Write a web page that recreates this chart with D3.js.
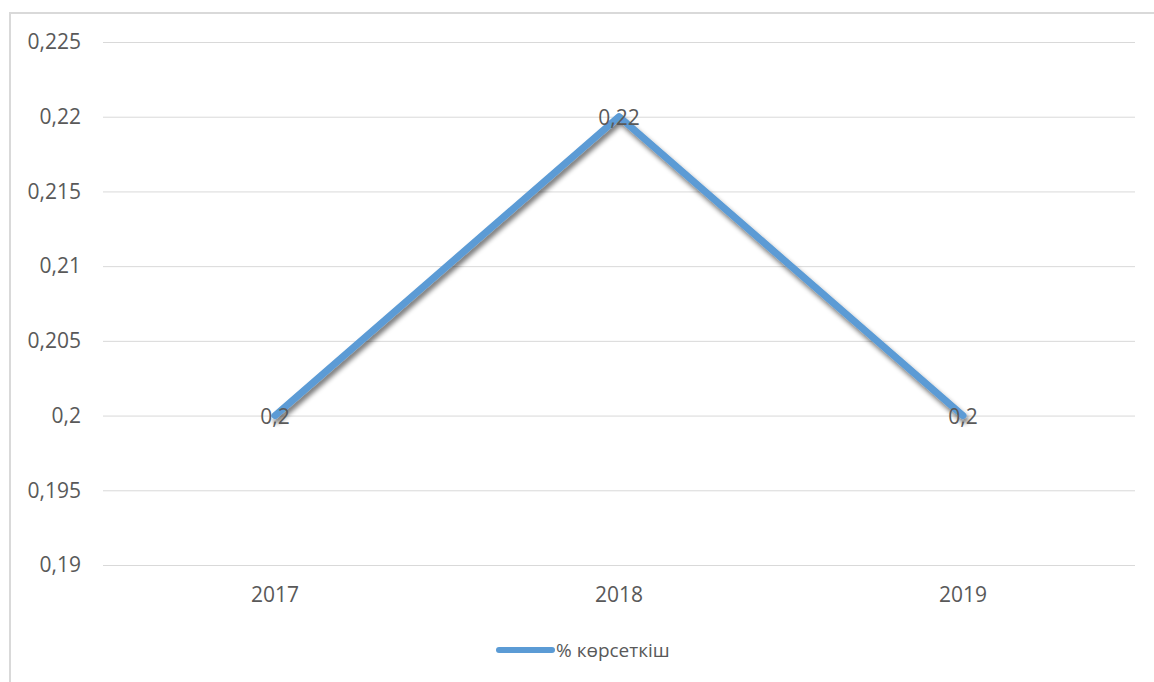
<!DOCTYPE html>
<html><head><meta charset="utf-8">
<script src="https://cdn.jsdelivr.net/npm/d3@7"></script>
<style>body{margin:0;background:#fff}svg{display:block}text{font-family:"Open Sans",sans-serif;fill:#595959}</style>
</head><body>
<svg id="c" width="1154" height="682"></svg>
<script>
const categories = ["2017", "2018", "2019"];
const values = [0.2, 0.22, 0.2];
const valueLabels = ["0,2", "0,22", "0,2"];
const yTicks = [0.19, 0.195, 0.2, 0.205, 0.21, 0.215, 0.22, 0.225];
const seriesName = "% көрсеткіш";

const svg = d3.select("#c");
const defs = svg.append("defs");
const f = defs.append("filter").attr("id","sh").attr("x","-10%").attr("y","-10%").attr("width","120%").attr("height","130%");
f.append("feGaussianBlur").attr("in","SourceAlpha").attr("stdDeviation",2.5).attr("result","b");
f.append("feOffset").attr("in","b").attr("dx",2).attr("dy",4).attr("result","o");
f.append("feComponentTransfer").attr("in","o").attr("result","o2").append("feFuncA").attr("type","linear").attr("slope",0.55);
const m = f.append("feMerge"); m.append("feMergeNode").attr("in","o2"); m.append("feMergeNode").attr("in","SourceGraphic");

// frame
svg.append("path").attr("d","M10,682 L10,13 L1154,13").attr("fill","none").attr("stroke","#d9d9d9").attr("stroke-width",2);

const x = d3.scaleBand().domain(categories).range([103,1135]);
const y = d3.scaleLinear().domain([0.19,0.225]).range([565,42]);
const fmt = d => String(+d.toFixed(3)).replace(".", ",");

const ya = svg.append("g").attr("transform","translate(103,0)")
  .call(d3.axisLeft(y).tickValues(yTicks).tickSize(-1032).tickFormat(fmt).tickPadding(22));
ya.select(".domain").remove();
ya.selectAll("line").attr("stroke","#d9d9d9").attr("stroke-width",1);
ya.selectAll("text").style("font-size","21px").attr("fill","#595959");

const xa = svg.append("g").attr("transform","translate(0,565)")
  .call(d3.axisBottom(x).tickSize(0).tickPadding(22));
xa.select(".domain").remove();
xa.selectAll("text").style("font-size","21px").attr("fill","#595959");

const line = d3.line().x((d,i)=>x(categories[i])+x.bandwidth()/2).y(d=>y(d));
svg.append("path").datum(values).attr("d",line).attr("fill","none")
  .attr("stroke","#5b9bd5").attr("stroke-width",7).attr("stroke-linecap","round").attr("stroke-linejoin","round")
  .attr("filter","url(#sh)");

svg.selectAll(".lbl").data(values).enter().append("text")
  .attr("x",(d,i)=>x(categories[i])+x.bandwidth()/2).attr("y",d=>y(d)+8)
  .attr("text-anchor","middle").style("font-size","21px").attr("fill","#404040")
  .text((d,i)=>valueLabels[i]);

// legend
svg.append("line").attr("x1",499).attr("x2",552).attr("y1",650).attr("y2",650)
  .attr("stroke","#5b9bd5").attr("stroke-width",6).attr("stroke-linecap","round");
svg.append("text").attr("x",556).attr("y",657).style("font-size","19px").attr("fill","#595959").text(seriesName);
</script>
</body></html>
